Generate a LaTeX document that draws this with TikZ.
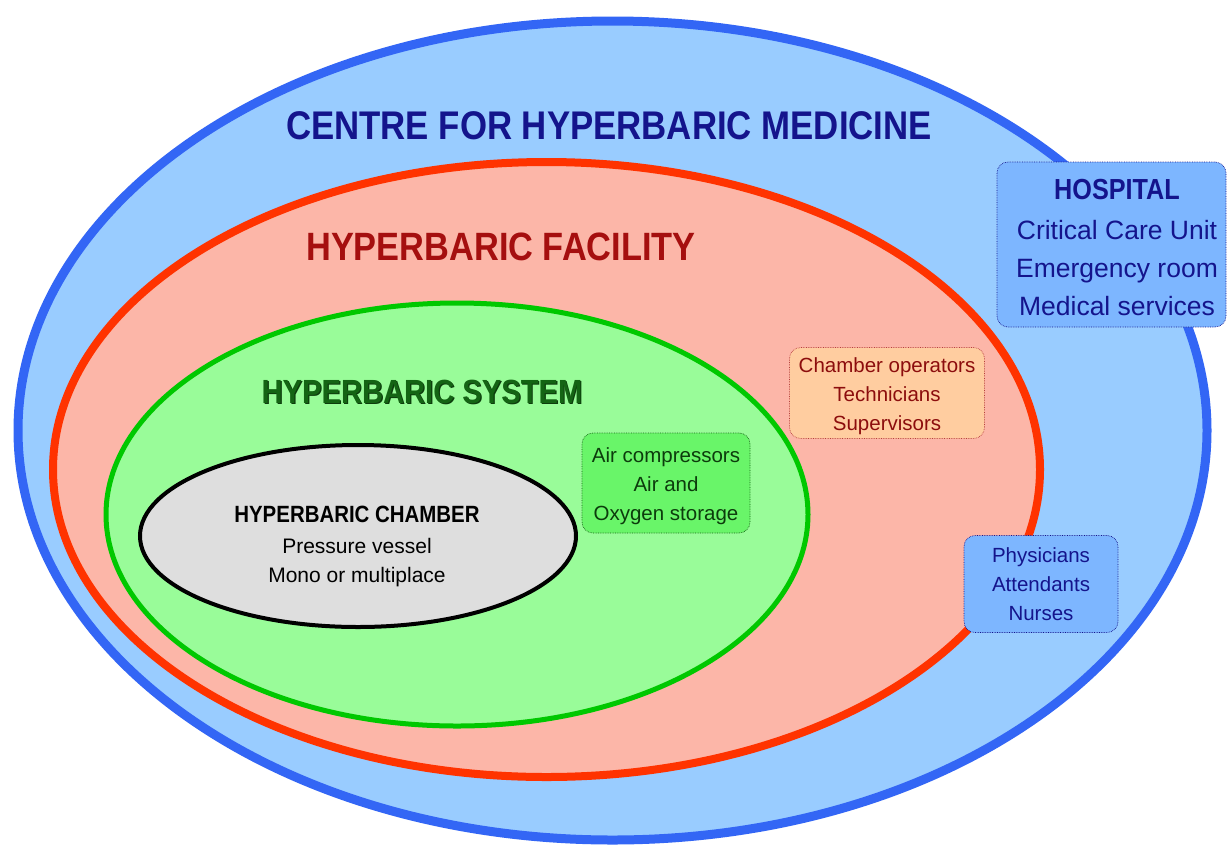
\documentclass[tikz,border=0pt]{standalone}
\usepackage{fontspec}
\setmainfont{Liberation Sans}
\newfontfamily\headfont{Liberation Sans}[FakeStretch=0.87]
\definecolor{centrefill}{RGB}{153,204,255}
\definecolor{centreline}{RGB}{51,102,245}
\definecolor{facilityfill}{RGB}{252,182,168}
\definecolor{facilityline}{RGB}{255,51,0}
\definecolor{systemfill}{RGB}{153,252,153}
\definecolor{systemline}{RGB}{0,200,0}
\definecolor{chamberfill}{RGB}{222,222,222}
\definecolor{navytext}{RGB}{20,20,140}
\definecolor{redtext}{RGB}{165,15,15}
\definecolor{greentext}{RGB}{20,100,20}
\definecolor{staffblue}{RGB}{125,182,255}
\definecolor{staffpeach}{RGB}{255,205,160}
\definecolor{staffgreen}{RGB}{105,245,105}
\usetikzlibrary{positioning}

\begin{document}
\begin{tikzpicture}[x=1pt, y=-1pt,
    headtext/.style={font=\headfont\bfseries\fontsize{#1}{#1}\selectfont},
    infobox/.style={rounded corners=11pt, densely dotted, line width=0.7pt,
        align=center, inner sep=0pt, font=\fontsize{20.5}{29}\selectfont}]
    \useasboundingbox (0,0) rectangle (1228,847);
    \fill[white] (0,0) rectangle (1228,847);

    % nested ellipses
    \begin{scope}
        \clip (0,0) rectangle (1228,847);
        \filldraw[fill=centrefill, draw=centreline, line width=9pt]
            (612.5,430.5) ellipse [x radius=594.5pt, y radius=409.5pt];
    \end{scope}
    \filldraw[fill=facilityfill, draw=facilityline, line width=8pt]
        (546.5,469.5) ellipse [x radius=493.5pt, y radius=307.5pt];
    \filldraw[fill=systemfill, draw=systemline, line width=5pt]
        (457,514.5) ellipse [x radius=351pt, y radius=211.5pt];
    \filldraw[fill=chamberfill, draw=black, line width=4pt]
        (358,536) ellipse [x radius=218pt, y radius=91pt];

    % titles
    \node[headtext=40, text=navytext] (centre) at (609,126) {CENTRE FOR HYPERBARIC MEDICINE};
    \node[headtext=39.5, text=redtext] (facility) at (501,247) {HYPERBARIC FACILITY};
    \node[headtext=33.5, text=greentext!60!black, xshift=1.2pt, yshift=-1.2pt] at (422,392) {HYPERBARIC SYSTEM};
    \node[headtext=33.5, text=greentext] (system) at (422,392) {HYPERBARIC SYSTEM};

    % chamber
    \node[headtext=23.5] (chamber) at (357,514) {HYPERBARIC CHAMBER};
    \node[align=center, font=\fontsize{21}{29}\selectfont] (vessel) at (357,563)
        {Pressure vessel\\Mono or multiplace};

    % staff and equipment boxes
    \node[infobox, fill=staffgreen, draw=greentext, text=greentext!60!black,
        minimum width=168pt, minimum height=100pt] (equipment) at (666,483) {};
    \node[align=center, text=greentext!60!black, font=\fontsize{20.5}{29}\selectfont]
        (equiplist) at (666,486) {Air compressors\\Air and\\Oxygen storage};
    \node[infobox, fill=staffpeach, draw=redtext!80,
        minimum width=195pt, minimum height=91pt] (operators) at (887,393) {};
    \node[align=center, text=redtext!85!black, font=\fontsize{20.5}{29}\selectfont]
        (operlist) at (887,396) {Chamber operators\\Technicians\\Supervisors};
    \node[infobox, fill=staffblue, draw=navytext, text=navytext,
        minimum width=154pt, minimum height=97pt] (medical) at (1041,584)
        {Physicians\\Attendants\\Nurses};
    \node[infobox, fill=staffblue, draw=navytext,
        minimum width=229pt, minimum height=165pt] (hospital) at (1111.5,244.5) {};
    \node[headtext=29, text=navytext] (hosptitle) at (1117,190) {HOSPITAL};
    \node[align=center, text=navytext, font=\fontsize{26.5}{38}\selectfont]
        (hosplist) at (1117,268) {Critical Care Unit\\Emergency room\\Medical services};
\end{tikzpicture}
\end{document}
